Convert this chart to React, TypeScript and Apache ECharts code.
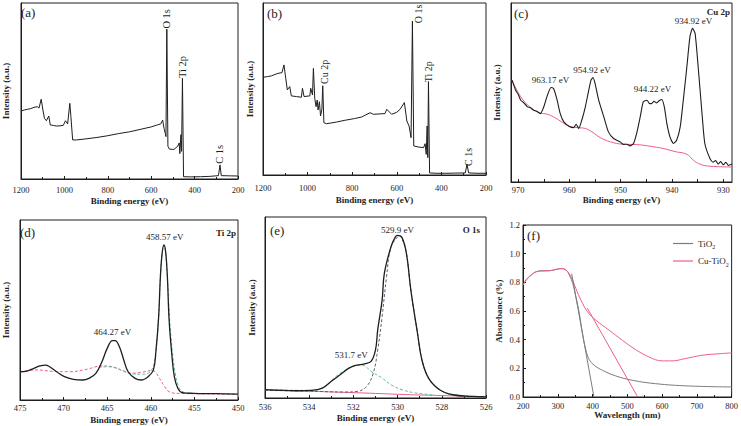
import React, { useEffect, useRef } from "react";
import * as echarts from "echarts";

const FONT = "'Liberation Serif', 'Times New Roman', serif";
const INK = "#1e1e1e";
const PINK = "#ee5f86";
const GREEN = "#5cc29c";
const GREY_DASH = "#5a5f72";
const GREY = "#7c7c7c";

// ---------- (a) TiO2 survey ----------
const surveyA: number[][] = [
  [1200, 38.6], [1185, 39.2], [1170, 39.6], [1155, 40.0], [1140, 40.7], [1125, 41.1], [1117, 40.3],
  [1107, 45.3], [1099, 39.2], [1092, 34.5], [1083, 33.1], [1072, 35.8], [1065, 30.7], [1050, 30.4],
  [1035, 30.1], [1020, 30.2], [1005, 30.5], [995, 33.1], [985, 31.3], [975, 43.0], [970, 35.4],
  [962, 22.2], [944, 22.2], [900, 22.8], [850, 23.6], [800, 24.6], [750, 25.8], [700, 26.8],
  [650, 28.2], [600, 29.6], [575, 30.6], [556, 31.3], [547, 33.5], [541, 28.8], [535, 25.9],
  [532, 24.1], [528, 85.2], [523, 18.6], [516, 17.0], [500, 16.8], [493, 17.0], [478, 18.6],
  [471, 20.5], [468, 14.4], [463, 25.2], [460, 15.7], [456, 57.2], [451, 1.3], [420, 1.2],
  [373, 1.3], [330, 1.5], [290, 1.9], [283, 8.0], [277, 1.9], [240, 1.8], [200, 1.7],
];
const labelsA = [
  { text: "O 1s", x: 528, y: 91 },
  { text: "Ti 2p", x: 456, y: 63.6 },
  { text: "C 1s", x: 283, y: 14 },
];

// ---------- (b) Cu-TiO2 survey ----------
const surveyB: number[][] = [
  [1200, 56.8], [1180, 57.2], [1163, 57.6], [1133, 59.1], [1115, 59.5], [1106, 64.0], [1100, 58.2],
  [1091, 49.5], [1080, 51.4], [1073, 46.0], [1050, 45.6], [1028, 45.2], [1023, 50.4], [1016, 45.6],
  [990, 46.0], [986, 50.4], [978, 46.5], [974, 62.0], [968, 44.6], [962, 39.7], [957, 43.6],
  [953, 37.8], [947, 42.6], [942, 34.3], [936, 38.2], [932, 51.9], [927, 30.4], [915, 29.8],
  [870, 30.8], [833, 31.8], [790, 32.8], [758, 33.7], [720, 36.2], [705, 35.3], [653, 35.7],
  [645, 38.2], [623, 35.3], [600, 36.5], [585, 38.2], [566, 42.1], [555, 31.4], [545, 28.5],
  [536, 21.7], [530, 89.5], [524, 16.9], [500, 16.2], [480, 15.9], [473, 18.2], [468, 12.0],
  [464, 28.5], [461, 10.1], [458, 54.3], [453, 1.2], [420, 1.0], [383, 1.0], [340, 1.1],
  [293, 1.2], [285, 6.2], [278, 1.2], [240, 1.0], [200, 1.0],
];
const labelsB = [
  { text: "Cu 2p", x: 922, y: 60 },
  { text: "O 1s", x: 504, y: 93.6 },
  { text: "Ti 2p", x: 460, y: 60 },
  { text: "C 1s", x: 280, y: 10.5 },
];

// ---------- (c) Cu 2p ----------
const cu2p: number[][] = [
  [971.2, 56.9], [970.5, 51.3], [970, 49], [969.5, 45.7], [969, 44.5], [968.2, 42.0], [967.6, 41.5],
  [967.0, 40.1], [966.4, 39.5], [965.7, 38.2], [965.0, 42.0], [964.4, 47.6], [963.6, 52.8],
  [963.1, 52.2], [962.4, 45.7], [961.8, 38.2], [961.1, 33.6], [960.1, 31.2], [959.2, 30.4],
  [958.7, 32.3], [958.2, 29.9], [957.6, 34.5], [956.9, 42.0], [956.3, 50.4], [955.8, 56.9],
  [955.4, 58.4], [955.0, 55.0], [954.3, 45.7], [953.3, 36.4], [952.4, 28.0], [951.4, 24.3],
  [950.1, 22.4], [949.5, 21.0], [948.8, 21.1], [948.2, 20.2], [947.5, 21.5], [946.9, 27.1],
  [946.2, 36.4], [945.6, 44.8], [944.9, 45.7], [944.4, 43.9], [944.0, 43.8], [943.5, 45.1],
  [943.0, 44.2], [942.5, 45.4], [942.0, 46.1], [941.5, 42.0], [941.0, 32.6], [940.4, 25.2],
  [939.7, 21.5], [939.1, 23.3], [938.4, 30.8], [937.8, 45.7], [937.1, 64.4], [936.5, 81.2],
  [936.0, 85.8], [935.5, 83.0], [934.9, 64.4], [934.2, 40.1], [933.6, 21.5], [932.6, 13.1],
  [932.0, 11.0], [931.5, 12.0], [931.0, 10.0], [930.5, 11.4], [930.0, 9.6], [929.5, 11.0],
  [929.0, 9.2], [928.3, 10.0],
];
const cu2pBackground: number[][] = [
  [971.2, 56.9], [969.5, 47.6], [967.6, 41.6], [965.7, 38.6], [964.4, 37.9], [963.1, 36.4],
  [961.8, 34.1], [960.1, 31.2], [958.5, 30.4], [956.9, 29.9], [955.6, 28.0], [954.0, 24.8],
  [952.0, 22.4], [949.5, 21.1], [946.9, 20.9], [944.3, 20.0], [941.7, 18.7], [939.1, 16.8],
  [937.8, 16.2], [936.8, 14.9], [935.8, 12.1], [934.5, 9.9], [932.6, 8.8], [928.3, 8.4],
];
const labelsC = [
  { text: "963.17 eV", x: 963.7, y: 56.9 },
  { text: "954.92 eV", x: 955.6, y: 62.5 },
  { text: "944.22 eV", x: 943.8, y: 51.7 },
  { text: "934.92 eV", x: 935.8, y: 90.1 },
];

// ---------- (d) Ti 2p ----------
const ti2p: number[][] = [
  [475, 15.7], [474.2, 16.1], [473.4, 17.6], [472.7, 18.9], [472.1, 19.4], [471.6, 18.5],
  [470.8, 15.7], [469.9, 13.0], [468.9, 11.5], [467.8, 11.1], [467.1, 12.0], [466.3, 14.8],
  [465.6, 21.3], [465.0, 28.7], [464.4, 33.0], [464.1, 33.0], [463.6, 29.6], [463.1, 22.2],
  [462.6, 15.7], [461.8, 12.0], [461.1, 11.1], [460.3, 13.0], [459.7, 16.7], [459.4, 27.8],
  [459.1, 46.3], [458.9, 68.5], [458.7, 81.5], [458.5, 86.1], [458.3, 82.4], [458.1, 68.5],
  [457.9, 44.4], [457.6, 25.9], [457.3, 13.0], [456.9, 6.5], [456.4, 4.1], [455.1, 3.7],
  [452.4, 3.5], [450, 3.3],
];
const ti2pBackground: number[][] = [
  [475, 15.7], [473.1, 16.7], [471.2, 15.9], [469.3, 15.7], [467.4, 17.0], [465.7, 18.9],
  [464.4, 18.5], [463.3, 16.3], [462.2, 14.8], [461.1, 15.4], [459.9, 16.3], [459.5, 15.7],
  [459.0, 12.0], [458.4, 7.4], [457.9, 4.6], [456.9, 3.7], [450, 3.3],
];
const ti2pComponent: number[][] = [
  [466.0, 18.0], [465.0, 18.5], [464.0, 17.8], [463.0, 16.0], [462.0, 14.5], [461.0, 14.3],
  [460.0, 16.0], [459.5, 24.0], [459.1, 46.0], [458.9, 68.5], [458.7, 81.5], [458.5, 86.0],
  [458.3, 82.4], [458.1, 68.5], [457.85, 46.0], [457.55, 28.0], [457.2, 15.0], [456.8, 7.5],
  [456.3, 4.5], [455.5, 3.7],
];
const labelsD = [
  { text: "458.57 eV", x: 458.4, y: 90.7 },
  { text: "464.27 eV", x: 464.4, y: 38 },
];

// ---------- (e) O 1s ----------
const o1s: number[][] = [
  [536, 4.6], [534.6, 4.0], [533.9, 4.2], [533.4, 5.5], [533.0, 9.2], [532.5, 13.8], [532.2, 16.5],
  [531.9, 18.0], [531.5, 18.9], [531.2, 20.2], [531.0, 26.6], [530.9, 37.6], [530.7, 54.1],
  [530.6, 68.8], [530.3, 83.5], [530.1, 89.0], [530.0, 89.9], [529.8, 88.6], [529.6, 79.8],
  [529.4, 59.6], [529.1, 35.8], [528.9, 21.1], [528.6, 11.0], [528.1, 4.6], [527.5, 1.8],
  [526.6, 0.9], [526, 0.6],
];
const o1sLattice: number[][] = [
  [536, 4.2], [534, 3.8], [532.4, 3.3], [531.8, 3.7], [531.4, 6.4], [531.1, 13.8], [530.9, 26.6],
  [530.7, 45.0], [530.5, 67.0], [530.3, 83.5], [530.0, 89.0], [529.9, 89.7], [529.8, 88.1],
  [529.6, 79.8], [529.4, 59.6], [529.1, 35.8], [528.9, 21.1], [528.6, 11.0], [528.1, 4.6],
  [527.5, 1.8], [526, 0.6],
];
const o1sHydroxyl: number[][] = [
  [536, 4.6], [533.9, 4.2], [533.3, 6.4], [532.7, 12.8], [532.2, 16.5], [531.8, 18.3],
  [531.5, 17.8], [531.2, 14.7], [530.7, 11.0], [530.3, 7.3], [529.8, 4.6], [529.2, 2.8],
  [528.4, 1.8],
];
const o1sBackground: number[][] = [
  [536, 4.6], [533.9, 3.7], [531.6, 2.8], [529.4, 1.8], [527.8, 1.3], [526, 0.6],
];
const labelsE = [
  { text: "529.9 eV", x: 530.0, y: 92.7 },
  { text: "531.7 eV", x: 532.1, y: 23.8 },
];

// ---------- (f) UV-vis ----------
const tio2Abs: number[][] = [
  [200, 0.781], [209.5, 0.82], [223.8, 0.851], [238, 0.874], [257, 0.881], [276, 0.881],
  [295, 0.89], [309.5, 0.895], [324, 0.885], [333, 0.851], [343, 0.792], [352, 0.699],
  [362, 0.583], [371, 0.443], [381, 0.326], [390.5, 0.261], [405, 0.221], [428.6, 0.186],
  [466.7, 0.147], [514, 0.117], [581, 0.093], [676, 0.077], [800, 0.07],
];
const cuTio2Abs: number[][] = [
  [200, 0.781], [209.5, 0.815], [223.8, 0.851], [238, 0.874], [257, 0.879], [276, 0.881],
  [295, 0.89], [309.5, 0.897], [324, 0.885], [338, 0.839], [352, 0.757], [366.7, 0.676],
  [385.7, 0.594], [409.5, 0.536], [447.6, 0.466], [485.7, 0.396], [523.8, 0.331],
  [561.9, 0.28], [600, 0.252], [628.6, 0.252], [666.7, 0.268], [714.3, 0.291], [771.4, 0.303],
  [800, 0.308],
];
const tio2Edge: number[][] = [[340, 0.86], [404, 0]];
const cuTio2Edge: number[][] = [[385, 0.62], [530, 0]];

const xTicksC = [930, 940, 950, 960, 970];
const xMinorC = [930, 935, 940, 945, 950, 955, 960, 965, 970];

// ---------- layout ----------
const grids = [
  { left: 17, top: 3, width: 221, height: 176 },
  { left: 263, top: 3, width: 223, height: 172 },
  { left: 511, top: 3, width: 221, height: 179 },
  { left: 16, top: 220, width: 222, height: 180 },
  { left: 265, top: 217, width: 221, height: 181 },
  { left: 523, top: 225, width: 210, height: 172 },
];

const axisLineStyle = { color: INK, width: 1 };
const nameStyle = { fontFamily: FONT, fontWeight: "bold" as const, fontSize: 9, color: INK };
const tickLabel = (margin: number) => ({
  fontFamily: FONT, fontSize: 8.5, color: INK, margin, showMinLabel: true, showMaxLabel: true,
});

function xAxis(i: number, cfg: any) {
  return {
    type: "value",
    gridIndex: i,
    inverse: cfg.inverse ?? true,
    min: cfg.min,
    max: cfg.max,
    interval: cfg.interval,
    name: cfg.name ?? "Binding energy (eV)",
    nameLocation: "middle",
    nameGap: cfg.nameGap,
    nameTextStyle: nameStyle,
    axisLine: { show: true, lineStyle: axisLineStyle },
    axisTick: { show: true, inside: true, length: 3, lineStyle: axisLineStyle, ...(cfg.tickValues ? { customValues: cfg.tickValues } : {}) },
    minorTick: { show: !cfg.tickValues, splitNumber: 2, length: 2, lineStyle: axisLineStyle },
    axisLabel: {
      ...tickLabel(cfg.labelMargin),
      formatter: (v: number) => String(v),
      ...(cfg.labelValues ? { customValues: cfg.labelValues } : {}),
    },
    splitLine: { show: false },
    minorSplitLine: { show: false },
  };
}

function yIntensity(i: number, nameGap: number, min = 0, max = 100) {
  return {
    type: "value",
    gridIndex: i,
    min,
    max,
    name: "Intensity (a.u.)",
    nameLocation: "middle",
    nameGap,
    nameTextStyle: nameStyle,
    axisLine: { show: true, lineStyle: axisLineStyle },
    axisTick: { show: false },
    axisLabel: { show: false },
    splitLine: { show: false },
  };
}

function line(i: number, name: string, data: number[][], color: string, width: number, type: any = "solid", smooth: number | boolean = 0.3, extra: any = {}) {
  return {
    type: "line",
    name,
    xAxisIndex: i,
    yAxisIndex: i,
    data,
    symbol: "none",
    showSymbol: false,
    smooth,
    lineStyle: { color, width, type },
    itemStyle: { color },
    silent: true,
    animation: false,
    ...extra,
  };
}

function peakLabels(items: { text: string; x: number; y: number }[], fontSize: number, rotate = 0) {
  return {
    symbol: "rect",
    symbolSize: 1,
    silent: true,
    animation: false,
    itemStyle: { color: "rgba(0,0,0,0)" },
    data: items.map((it) => ({
      name: it.text,
      coord: [it.x, it.y],
      label: {
        show: true,
        position: "inside",
        formatter: it.text,
        rotate,
        fontFamily: FONT,
        fontSize,
        color: INK,
      },
    })),
  };
}

const panelText = (text: string, x: number, y: number, size: number, bold = false, align = "left") => ({
  type: "text",
  x,
  y,
  silent: true,
  z: 100,
  style: {
    text,
    fill: INK,
    font: `${bold ? "bold " : ""}${size}px ${FONT}`,
    align,
    verticalAlign: "middle",
  },
});

const option: any = {
  animation: false,
  backgroundColor: "#ffffff",
  grid: grids.map((g) => ({ ...g, show: true, borderColor: INK, borderWidth: 1, backgroundColor: "transparent", containLabel: false })),
  xAxis: [
    xAxis(0, { min: 200, max: 1200, interval: 200, nameGap: 17, labelMargin: 6 }),
    xAxis(1, { min: 200, max: 1200, interval: 200, nameGap: 20, labelMargin: 8 }),
    xAxis(2, { min: 928.3, max: 971.4, nameGap: 13, labelMargin: 3, labelValues: xTicksC, tickValues: xMinorC }),
    xAxis(3, { min: 450, max: 475, interval: 5, nameGap: 15, labelMargin: 3 }),
    xAxis(4, { min: 526, max: 536, interval: 2, nameGap: 15, labelMargin: 4 }),
    xAxis(5, { min: 200, max: 800, interval: 100, inverse: false, name: "Wavelength (nm)", nameGap: 12, labelMargin: 4 }),
  ],
  yAxis: [
    yIntensity(0, 11),
    yIntensity(1, 9),
    yIntensity(2, 10),
    yIntensity(3, 10),
    yIntensity(4, 9),
    {
      type: "value",
      gridIndex: 5,
      min: 0,
      max: 1.2,
      interval: 0.2,
      name: "Absorbance (%)",
      nameLocation: "middle",
      nameGap: 20,
      nameTextStyle: nameStyle,
      axisLine: { show: true, lineStyle: axisLineStyle },
      axisTick: { show: true, inside: true, length: 3, lineStyle: axisLineStyle },
      minorTick: { show: true, splitNumber: 2, length: 2, lineStyle: axisLineStyle },
      axisLabel: { ...tickLabel(3), formatter: (v: number) => v.toFixed(1) },
      splitLine: { show: false },
    },
  ],
  legend: {
    data: [
      { name: "TiO2", icon: "rect" },
      { name: "Cu-TiO2", icon: "rect" },
    ],
    left: 668,
    top: 234,
    orient: "vertical",
    itemWidth: 20,
    itemHeight: 1.2,
    itemGap: 6,
    formatter: (n: string) => (n === "TiO2" ? "{m|TiO}{s|2}" : "{m|Cu-TiO}{s|2}"),
    textStyle: {
      fontFamily: FONT,
      fontSize: 9,
      color: INK,
      rich: {
        m: { fontFamily: FONT, fontSize: 9, color: INK, lineHeight: 12, verticalAlign: "middle" },
        s: { fontFamily: FONT, fontSize: 6, color: INK, lineHeight: 12, verticalAlign: "bottom", padding: [0, 0, -1, 0] },
      },
    },
  },
  series: [
    line(0, "survey-a", surveyA, INK, 1, "solid", false, { markPoint: peakLabels(labelsA, 10.5, 90) }),
    line(1, "survey-b", surveyB, INK, 1, "solid", false, { markPoint: peakLabels(labelsB, 10, 90) }),
    line(2, "cu-bg", cu2pBackground, PINK, 1, "solid", 0.4),
    line(2, "cu2p", cu2p, INK, 1.1, "solid", 0.2, { markPoint: peakLabels(labelsC, 9) }),
    line(3, "ti-bg", ti2pBackground, PINK, 1, [3, 2], 0.4),
    line(3, "ti-comp", ti2pComponent, GREEN, 1, [3, 2], 0.4),
    line(3, "ti2p", ti2p, INK, 1.3, "solid", 0.4, { markPoint: peakLabels(labelsD, 9) }),
    line(4, "o-bg", o1sBackground, PINK, 1, "solid", 0.4),
    line(4, "o-oh", o1sHydroxyl, GREEN, 1, [3, 2], 0.4),
    line(4, "o-lat", o1sLattice, GREY_DASH, 1, [3, 2], 0.4),
    line(4, "o1s", o1s, INK, 1.3, "solid", 0.4, { markPoint: peakLabels(labelsE, 9) }),
    line(5, "TiO2", tio2Abs, GREY, 1, "solid", 0.4),
    line(5, "Cu-TiO2", cuTio2Abs, PINK, 1, "solid", 0.4),
    line(5, "tio2-edge", tio2Edge, GREY, 1, "solid", false),
    line(5, "cu-edge", cuTio2Edge, PINK, 1, "solid", false),
  ],
  graphic: [
    panelText("(a)", 21, 12, 13),
    panelText("(b)", 267, 13, 13),
    panelText("(c)", 514, 13, 13),
    panelText("Cu 2p", 730, 12, 9, true, "right"),
    panelText("(d)", 20, 232, 13),
    panelText("Ti 2p", 236, 233, 9, true, "right"),
    panelText("(e)", 270, 230, 13),
    panelText("O 1s", 480, 230, 9, true, "right"),
    panelText("(f)", 527, 235, 13),
  ],
};

export default function App() {
  const ref = useRef<HTMLDivElement>(null);
  useEffect(() => {
    if (!ref.current) return;
    const chart = echarts.init(ref.current, null, { renderer: "svg" });
    chart.setOption(option);
    return () => chart.dispose();
  }, []);
  return (
    <div
      ref={ref}
      style={{ position: "absolute", left: 0, top: 0, width: 741, height: 426, background: "#fff" }}
    />
  );
}
